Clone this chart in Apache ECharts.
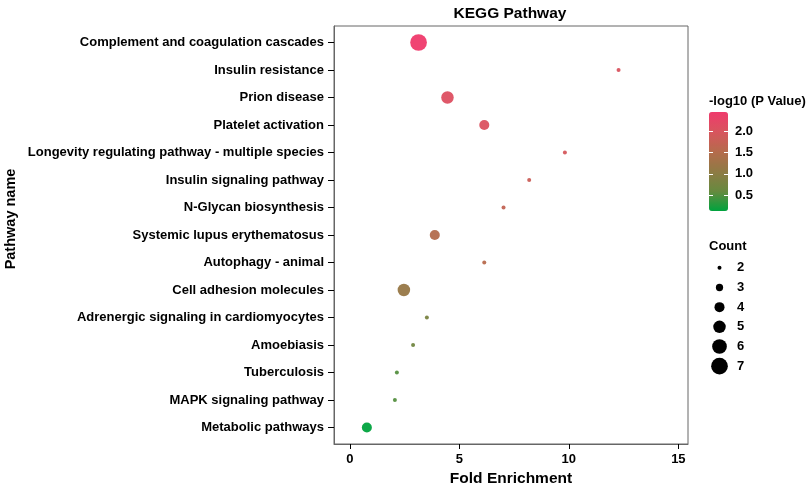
<!DOCTYPE html>
<html>
<head>
<meta charset="utf-8">
<script src="https://cdn.jsdelivr.net/npm/echarts@6/dist/echarts.min.js"></script>
<style>
  html, body { margin: 0; padding: 0; background: #fff; }
  #main { width: 809px; height: 485px; }
</style>
</head>
<body>
<div id="main"></div>
<script>
// pathways, top to bottom
const pathways = [
  'Complement and coagulation cascades',
  'Insulin resistance',
  'Prion disease',
  'Platelet activation',
  'Longevity regulating pathway - multiple species',
  'Insulin signaling pathway',
  'N-Glycan biosynthesis',
  'Systemic lupus erythematosus',
  'Autophagy - animal',
  'Cell adhesion molecules',
  'Adrenergic signaling in cardiomyocytes',
  'Amoebiasis',
  'Tuberculosis',
  'MAPK signaling pathway',
  'Metabolic pathways'
]
const foldEnrichment = [3.14, 12.27, 4.46, 6.14, 9.82, 8.19, 7.02, 3.88, 6.14, 2.47, 3.52, 2.89, 2.15, 2.06, 0.78]
const logP = [2.46, 2.02, 2.1, 2.05, 1.95, 1.8, 1.7, 1.5, 1.55, 1.15, 0.8, 0.7, 0.5, 0.5, 0.12]
const counts = [7, 2, 5, 4, 2, 2, 2, 4, 2, 5, 2, 2, 2, 2, 4]

const xTicks = [0, 5, 10, 15]
const colorTicks = [0.5, 1.0, 1.5, 2.0]
const countLegend = [2, 3, 4, 5, 6, 7]

const font = 'Liberation Sans, Arial, sans-serif'

// ggplot style area scale: diameter linear in sqrt(count)
function sizeFor(c) {
  const lo = Math.sqrt(2), hi = Math.sqrt(7)
  return 4 + (Math.sqrt(c) - lo) / (hi - lo) * 12.7
}

const rows = pathways.map((p, i) => i + 1)
const points = pathways.map((p, i) => [foldEnrichment[i], i + 1, logP[i], counts[i], p])

const mycharts = echarts.init(document.getElementById('main'))
const option = {
  animation: false,
  textStyle: { fontFamily: font },
  title: {
    text: 'KEGG Pathway',
    left: 505,
    top: 1,
    textAlign: 'center',
    textStyle: { fontSize: 15.5, fontWeight: 'bold', color: '#000', fontFamily: font }
  },
  grid: [
    { left: 334, right: 121, top: 26, bottom: 41, show: true, borderColor: '#666', borderWidth: 1, outerBoundsMode: 'none' },
    { left: 709, top: 112, width: 19, height: 99, outerBoundsMode: 'none' },
    { left: 713, top: 258, width: 13, height: 118, outerBoundsMode: 'none' }
  ],
  xAxis: [
    {
      gridIndex: 0,
      type: 'value',
      min: -0.72,
      max: 15.44,
      name: 'Fold Enrichment',
      nameLocation: 'middle',
      nameGap: 26,
      nameTextStyle: { fontSize: 15.5, fontWeight: 'bold', color: '#000' },
      axisLine: { onZero: false, lineStyle: { color: '#666' } },
      axisTick: { customValues: xTicks, length: 5, lineStyle: { color: '#000' } },
      axisLabel: { customValues: xTicks, margin: 9, fontSize: 13, fontWeight: 'bold', color: '#000' },
      splitLine: { show: false }
    },
    { gridIndex: 1, type: 'value', show: false },
    { gridIndex: 2, type: 'value', show: false, min: -1, max: 1 }
  ],
  yAxis: [
    {
      gridIndex: 0,
      type: 'value',
      min: 0.4,
      max: 15.6,
      inverse: true,
      axisLine: { show: true, onZero: false, lineStyle: { color: '#666' } },
      axisTick: { show: true, customValues: rows, length: 6, lineStyle: { color: '#000' } },
      axisLabel: {
        customValues: rows,
        margin: 10,
        fontSize: 13,
        fontWeight: 'bold',
        color: '#000',
        formatter: v => pathways[Math.round(v) - 1]
      },
      splitLine: { show: false }
    },
    // colour bar ticks (left side, no labels)
    {
      gridIndex: 1,
      type: 'value',
      min: 0.12,
      max: 2.46,
      position: 'left',
      z: 10,
      axisLine: { show: false },
      axisTick: { show: true, inside: true, customValues: colorTicks, length: 4, lineStyle: { color: '#fff' } },
      axisLabel: { show: false },
      splitLine: { show: false }
    },
    // colour bar ticks + labels (right side)
    {
      gridIndex: 1,
      type: 'value',
      min: 0.12,
      max: 2.46,
      position: 'right',
      z: 10,
      axisLine: { show: false },
      axisTick: { show: true, inside: true, customValues: colorTicks, length: 4, lineStyle: { color: '#fff' } },
      axisLabel: {
        customValues: colorTicks,
        margin: 7,
        fontSize: 13,
        fontWeight: 'bold',
        color: '#000',
        formatter: v => v.toFixed(1)
      },
      splitLine: { show: false }
    },
    // size legend
    {
      gridIndex: 2,
      type: 'category',
      data: countLegend.map(String),
      inverse: true,
      position: 'right',
      axisLine: { show: false },
      axisTick: { show: false },
      axisLabel: { margin: 11, fontSize: 13, fontWeight: 'bold', color: '#000' }
    }
  ],
  visualMap: {
    type: 'continuous',
    seriesIndex: 0,
    dimension: 2,
    min: 0.12,
    max: 2.46,
    left: 709,
    top: 112,
    padding: 0,
    itemWidth: 19,
    itemHeight: 99,
    calculable: false,
    hoverLink: false,
    inRange: { color: ['#00A33E', '#678A3F', '#8F7A44', '#B56B4C', '#D8555E', '#EF3A6C'] }
  },
  graphic: [
    {
      type: 'text',
      x: 11,
      y: 219,
      rotation: Math.PI / 2,
      style: { text: 'Pathway name', font: 'bold 14.5px ' + font, fill: '#000', align: 'center', verticalAlign: 'middle' }
    },
    {
      type: 'text',
      left: 709,
      top: 95,
      style: { text: '-log10 (P Value)', font: 'bold 13px ' + font, fill: '#000' }
    },
    {
      type: 'text',
      left: 709,
      top: 240,
      style: { text: 'Count', font: 'bold 13px ' + font, fill: '#000' }
    }
  ],
  series: [
    {
      type: 'scatter',
      xAxisIndex: 0,
      yAxisIndex: 0,
      data: points,
      symbolSize: v => sizeFor(v[3]),
      itemStyle: { opacity: 0.95 }
    },
    {
      type: 'scatter',
      xAxisIndex: 2,
      yAxisIndex: 3,
      data: countLegend.map((c, i) => [0, i]),
      symbolSize: v => sizeFor(countLegend[v[1]]),
      itemStyle: { color: '#000', opacity: 1 }
    }
  ]
}
mycharts.setOption(option)
</script>
</body>
</html>
